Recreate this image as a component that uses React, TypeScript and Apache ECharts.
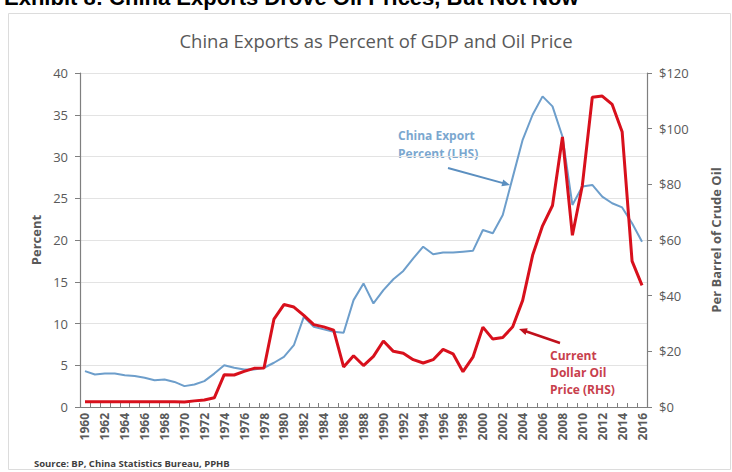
import React, { useEffect, useRef } from "react";
import * as echarts from "echarts";

const years: string[] = [];
for (let y = 1960; y <= 2016; y++) years.push(String(y));

// China exports as % of GDP (left axis)
const exportPct = [
  4.3, 3.9, 4.0, 4.0, 3.8, 3.7, 3.5, 3.2, 3.3, 3.0,
  2.5, 2.7, 3.1, 4.0, 5.0, 4.7, 4.5, 4.5, 4.7, 5.3,
  6.0, 7.4, 10.8, 9.6, 9.3, 9.0, 8.9, 12.8, 14.8, 12.4,
  14.0, 15.3, 16.3, 17.8, 19.2, 18.3, 18.5, 18.5, 18.6, 18.7,
  21.2, 20.8, 23.0, 27.5, 32.0, 35.0, 37.2, 36.0, 32.4, 24.2,
  26.4, 26.6, 25.2, 24.4, 23.9, 22.0, 19.8,
];

// Oil price, current dollars per barrel (right axis)
const oilPrice = [
  1.9, 1.9, 1.9, 1.9, 1.9, 1.9, 1.9, 1.9, 1.9, 1.9,
  1.8, 2.2, 2.5, 3.3, 11.6, 11.5, 12.8, 13.9, 14.0, 31.6,
  36.8, 35.9, 32.9, 29.6, 28.8, 27.6, 14.4, 18.4, 14.9, 18.2,
  23.7, 20.0, 19.3, 17.0, 15.8, 17.0, 20.7, 19.1, 12.7, 17.9,
  28.7, 24.4, 25.0, 28.8, 38.3, 54.5, 65.1, 72.4, 97.0, 61.7,
  79.6, 111.3, 111.7, 108.7, 98.9, 52.4, 43.7,
];

const leftTicks = { min: 0, max: 40, interval: 5 };
const rightTicks = { min: 0, max: 120, interval: 20 };

const FONT = "'Open Sans', 'Noto Sans', sans-serif";
const AXIS_GREY = "#7f7f7f";
const LABEL_GREY = "#595959";

export default function App() {
  const ref = useRef<HTMLDivElement>(null);

  useEffect(() => {
    if (!ref.current) return;
    const chart = echarts.init(ref.current, null, { renderer: "svg" });
    chart.setOption({
      animation: false,
      backgroundColor: "#ffffff",
      grid: { left: 80, right: 85, top: 73, bottom: 65, containLabel: false },
      xAxis: {
        type: "category",
        data: years,
        boundaryGap: true,
        axisLine: { lineStyle: { color: AXIS_GREY, width: 1.2 } },
        axisTick: { show: true, inside: true, length: 4, interval: 0, lineStyle: { color: AXIS_GREY } },
        axisLabel: {
          interval: 1,
          rotate: 90,
          color: LABEL_GREY,
          fontFamily: FONT,
          fontSize: 12,
          fontWeight: "bold",
          margin: 6,
        },
        splitLine: { show: false },
      },
      yAxis: [
        {
          type: "value",
          min: leftTicks.min,
          max: leftTicks.max,
          interval: leftTicks.interval,
          name: "Percent",
          nameLocation: "middle",
          nameGap: 35,
          nameRotate: 90,
          nameTextStyle: { color: LABEL_GREY, fontFamily: FONT, fontSize: 13, fontWeight: "bold" },
          axisLine: { show: true, lineStyle: { color: AXIS_GREY, width: 1.2 } },
          axisTick: { show: true, length: 5, lineStyle: { color: AXIS_GREY } },
          axisLabel: { color: LABEL_GREY, fontFamily: FONT, fontSize: 13, margin: 12 },
          splitLine: { show: true, lineStyle: { color: "#e3e3e3", width: 1 } },
        },
        {
          type: "value",
          position: "right",
          min: rightTicks.min,
          max: rightTicks.max,
          interval: rightTicks.interval,
          name: "Per Barrel of Crude Oil",
          nameLocation: "middle",
          nameGap: 62,
          nameRotate: 90,
          nameTextStyle: { color: LABEL_GREY, fontFamily: FONT, fontSize: 13, fontWeight: "bold" },
          axisLine: { show: true, lineStyle: { color: AXIS_GREY, width: 1.2 } },
          axisTick: { show: true, length: 5, lineStyle: { color: AXIS_GREY } },
          axisLabel: {
            color: LABEL_GREY,
            fontFamily: FONT,
            fontSize: 13,
            margin: 12,
            formatter: (v: number) => "$" + v,
          },
          splitLine: { show: false },
        },
      ],
      series: [
        {
          name: "China Export Percent (LHS)",
          type: "line",
          yAxisIndex: 0,
          data: exportPct,
          showSymbol: false,
          lineStyle: { color: "#6d9ecb", width: 2 },
          z: 2,
        },
        {
          name: "Current Dollar Oil Price (RHS)",
          type: "line",
          yAxisIndex: 1,
          data: oilPrice,
          showSymbol: false,
          lineStyle: { color: "#d8101c", width: 3 },
          z: 3,
        },
      ],
      graphic: [
        {
          type: "rect",
          shape: { x: 8.5, y: 13.5, width: 722, height: 456 },
          style: { fill: "none", stroke: "#dcdcdc", lineWidth: 1 },
          z: -1,
        },
        {
          type: "text",
          x: 4,
          y: 8,
          style: {
            text: "Exhibit 8: China Exports Drove Oil Prices, But Not Now",
            fill: "#000000",
            font: "bold 22px 'Liberation Sans', Arial, sans-serif",
            textVerticalAlign: "bottom",
            textAlign: "left",
          },
        },
        {
          type: "text",
          x: 376,
          y: 40,
          style: {
            text: "China Exports as Percent of GDP and Oil Price",
            fill: LABEL_GREY,
            font: "500 18.5px " + FONT,
            textAlign: "center",
            textVerticalAlign: "middle",
          },
        },
        {
          type: "text",
          x: 34,
          y: 463,
          style: {
            text: "Source: BP, China Statistics Bureau, PPHB",
            fill: "#404040",
            font: "bold 9.5px " + FONT,
            textAlign: "left",
            textVerticalAlign: "middle",
          },
        },
        {
          type: "text",
          x: 398,
          y: 144,
          style: {
            text: "China Export\nPercent (LHS)",
            fill: "#7ba7cf",
            font: "bold 12px " + FONT,
            lineHeight: 18,
            textAlign: "left",
            textVerticalAlign: "middle",
          },
        },
        {
          type: "line",
          shape: { x1: 448, y1: 168, x2: 504, y2: 183.4 },
          style: { stroke: "#5b8fc0", lineWidth: 2 },
        },
        {
          type: "polygon",
          shape: { points: [[510, 185], [501.4, 186.3], [503.2, 179.5]] },
          style: { fill: "#5b8fc0" },
        },
        {
          type: "text",
          x: 550,
          y: 372,
          style: {
            text: "Current\nDollar Oil\nPrice (RHS)",
            fill: "#c8404c",
            font: "bold 12px " + FONT,
            lineHeight: 17,
            textAlign: "left",
            textVerticalAlign: "middle",
          },
        },
        {
          type: "line",
          shape: { x1: 560, y1: 343, x2: 525, y2: 331 },
          style: { stroke: "#c0101c", lineWidth: 2.5 },
        },
        {
          type: "polygon",
          shape: { points: [[519, 329], [527.7, 328.3], [525.5, 334.9]] },
          style: { fill: "#c0101c" },
        },
      ],
    });
    return () => chart.dispose();
  }, []);

  return (
    <div
      ref={ref}
      style={{ position: "fixed", left: 0, top: 0, width: 732, height: 472, background: "#fff" }}
    />
  );
}
